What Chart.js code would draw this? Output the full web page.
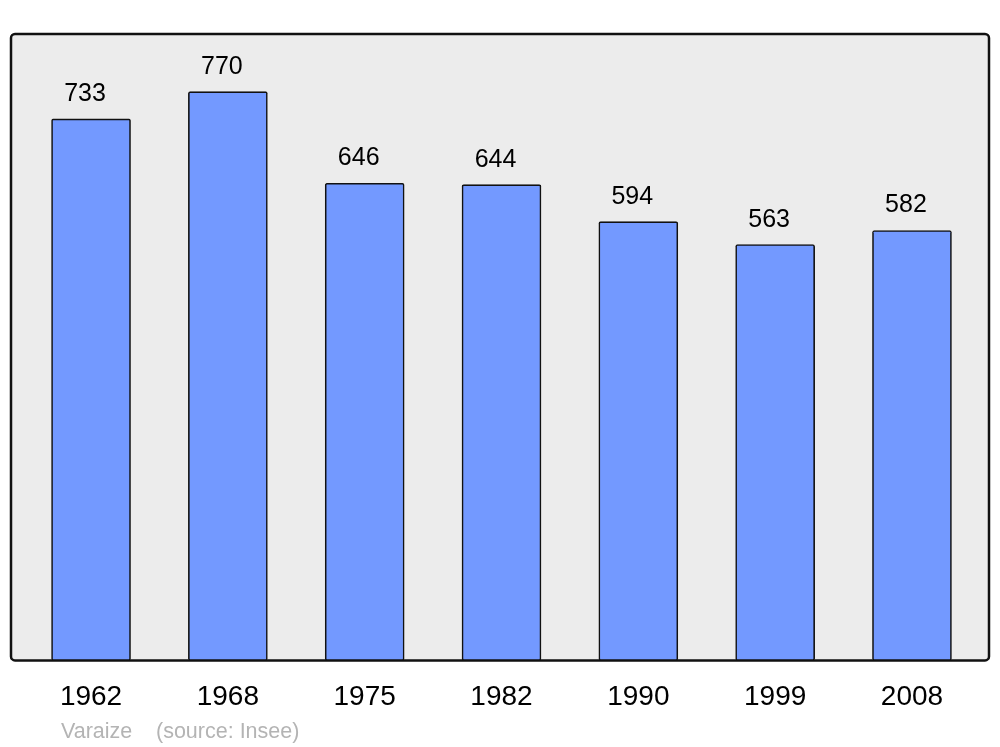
<!DOCTYPE html>
<html>
<head>
<meta charset="utf-8">
<style>
  body { margin: 0; background: #fff; }
  #wrap { width: 1000px; height: 747px; }
</style>
<script src="https://cdn.jsdelivr.net/npm/chart.js@4/dist/chart.umd.min.js"></script>
</head>
<body>
<div id="wrap"><canvas id="popChart" width="1000" height="747"></canvas></div>
<script>
// Population data (Varaize, source Insee)
const years = ['1962', '1968', '1975', '1982', '1990', '1999', '2008'];
const population = [733, 770, 646, 644, 594, 563, 582];
const townName = 'Varaize';
const sourceNote = '(source: Insee)';

const FONT = '"Liberation Sans", Arial, sans-serif';

// gray rounded box behind the bars
const plotBox = {
    id: 'plotBox',
    beforeDatasetsDraw(chart) {
        const { ctx, chartArea: a } = chart;
        ctx.save();
        ctx.beginPath();
        ctx.roundRect(a.left, a.top, a.right - a.left, a.bottom - a.top, 4);
        ctx.fillStyle = '#ececec';
        ctx.fill();
        ctx.lineWidth = 2.5;
        ctx.strokeStyle = '#111';
        ctx.stroke();
        ctx.restore();
    }
};

// value labels above bars + footer text
const valueLabels = {
    id: 'valueLabels',
    afterDatasetsDraw(chart) {
        const { ctx } = chart;
        const meta = chart.getDatasetMeta(0);
        ctx.save();
        ctx.fillStyle = '#000';
        ctx.font = '25px ' + FONT;
        ctx.textAlign = 'center';
        ctx.textBaseline = 'alphabetic';
        meta.data.forEach((bar, i) => {
            ctx.fillText(population[i], bar.x - 6, bar.y - 18);
        });
        ctx.fillStyle = '#b4b4b4';
        ctx.font = '21.5px ' + FONT;
        ctx.textAlign = 'left';
        ctx.fillText(townName, 61, 738);
        ctx.fillText(sourceNote, 156, 738);
        ctx.restore();
    }
};

const ctx = document.getElementById('popChart').getContext('2d');
const popChart = new Chart(ctx, {
    type: 'bar',
    data: {
        datasets: [{
            data: population.map((v, i) => ({ x: i, y: v })),
            backgroundColor: '#7399ff',
            borderColor: '#111',
            borderWidth: 1.6,
            borderRadius: 2,
            borderSkipped: false,
            barThickness: 79
        }]
    },
    options: {
        responsive: false,
        animation: false,
        layout: {
            padding: { left: 11, right: 11, top: 34, bottom: 13 }
        },
        plugins: {
            legend: { display: false },
            tooltip: { enabled: false }
        },
        scales: {
            x: {
                type: 'linear',
                offset: false,
                min: -0.585,
                max: 6.563,
                afterBuildTicks: scale => {
                    scale.ticks = years.map((_, i) => ({ value: i }));
                },
                ticks: {
                    autoSkip: false,
                    maxRotation: 0,
                    padding: 20,
                    color: '#000',
                    font: { family: FONT, size: 28 },
                    callback: v => years[v]
                },
                grid: { display: false, drawTicks: false },
                border: { display: false }
            },
            y: {
                display: false,
                min: 0,
                max: 848
            }
        }
    },
    plugins: [plotBox, valueLabels]
});
</script>
</body>
</html>
